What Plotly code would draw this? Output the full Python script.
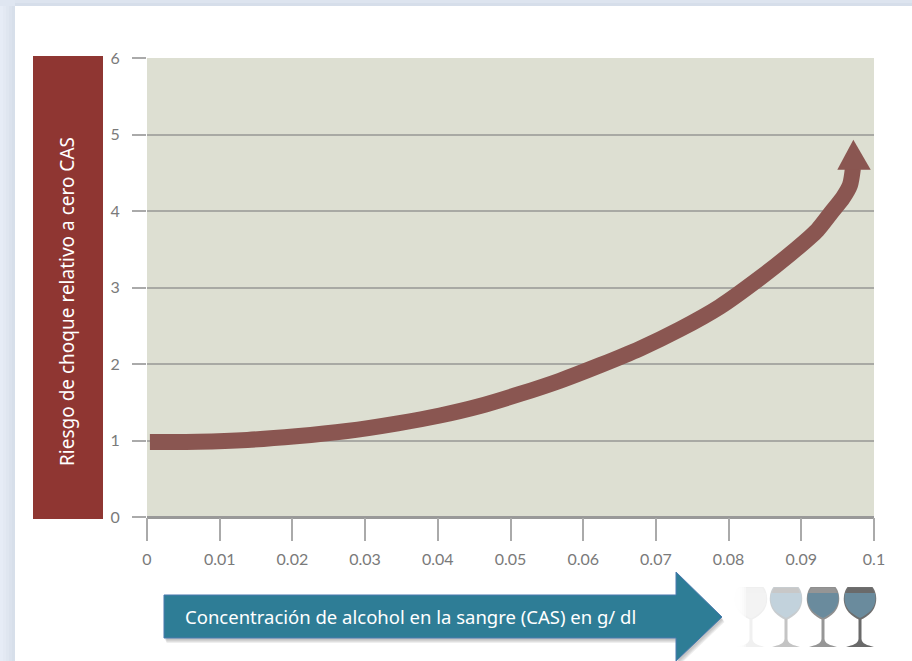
import plotly.graph_objects as go

# Data
cas = [0.0004, 0.0070, 0.0138, 0.0205, 0.0275, 0.0345, 0.0403, 0.0458, 0.0513, 0.0568, 0.0623, 0.0678, 0.0733, 0.0788, 0.0843, 0.0885, 0.0922, 0.0942, 0.0957, 0.0967, 0.0971]
riesgo = [0.98, 0.985, 1.008, 1.055, 1.124, 1.225, 1.327, 1.451, 1.608, 1.782, 1.983, 2.20, 2.454, 2.749, 3.124, 3.44, 3.75, 3.99, 4.17, 4.34, 4.56]
head_x = [0.09495, 0.09716, 0.09955, 0.09495]
head_y = [4.54, 4.93, 4.54, 4.54]
x_ticks = [0, 0.01, 0.02, 0.03, 0.04, 0.05, 0.06, 0.07, 0.08, 0.09, 0.1]
x_labels = ["0", "0.01", "0.02", "0.03", "0.04", "0.05", "0.06", "0.07", "0.08", "0.09", "0.1"]
y_ticks = [0, 1, 2, 3, 4, 5, 6]
y_title = "Riesgo de choque relativo a cero CAS"
x_title = "Concentración de alcohol en la sangre (CAS) en g/ dl"

W, H = 912, 661
L, R, T, B = 147, 874, 58, 517
def px(x): return (x - L) / (R - L)
def py(y): return (B - y) / (B - T)

def rect(x0, y0, x1, y1, color, layer="below", line=None, lw=0, opacity=1):
    return dict(type="rect", xref="paper", yref="paper", x0=px(x0), x1=px(x1), y0=py(y1), y1=py(y0),
                fillcolor=color, line=dict(color=line or color, width=lw), layer=layer, opacity=opacity)

def path(cmds, color, layer="above", line=None, lw=0, opacity=1):
    parts = []
    for c in cmds:
        parts.append(c[0] + " ".join(f"{px(c[i]):.5f},{py(c[i+1]):.5f}" for i in range(1, len(c), 2)))
    return dict(type="path", xref="paper", yref="paper", path=" ".join(parts), fillcolor=color,
                line=dict(color=line or color, width=lw), layer=layer, opacity=opacity)

shapes = []
# page background bands
for i, c in enumerate(["#e6ecf6", "#e3e9f3", "#dfe6f0", "#dbe2ed", "#d7dfea"]):
    shapes.append(rect(3 * i, 0, 3 * i + 3, H, c))
shapes.append(rect(0, 0, W, 3, "#dde4ef"))
shapes.append(rect(15, 3, W, 6, "#d6deea"))
shapes.append(rect(0, 0, 15, 6, "#dfe6f1"))
# red title box
shapes.append(rect(33, 56, 103, 519, "#8f3632", layer="above"))
# blue arrow with soft shadow
arrow = [("M", 164, 595), ("L", 676, 595), ("L", 676, 572), ("L", 722, 617), ("L", 676, 661), ("L", 676, 638), ("L", 164, 638), ("Z",)]
def offset(cmds, d):
    return [(c[0],) + tuple(v + (d / 2 if i % 2 == 0 else d) for i, v in enumerate(c[1:])) for c in cmds]
for d in (5, 4, 3, 2):
    shapes.append(path(offset(arrow, d), "#777777", opacity=0.12))
shapes.append(path(arrow, "#2e7d96", line="#4a7ab0", lw=1))

def glass(cx, rim, liquid, edge, stem):
    top, lvl, bot, foot = 587, 593, 620, 647
    out = []
    outline = [("M", cx - 12.5, top), ("L", cx + 12.5, top), ("C", cx + 18, 594, cx + 20, 612, cx, bot),
               ("C", cx - 20, 612, cx - 18, 594, cx - 12.5, top), ("Z",)]
    out.append(path(outline, edge))
    inner = [("M", cx - 11.5, top + 1), ("L", cx + 11.5, top + 1), ("C", cx + 16, 594, cx + 18, 611, cx, bot - 1.5),
             ("C", cx - 18, 611, cx - 16, 594, cx - 11.5, top + 1), ("Z",)]
    out.append(path(inner, rim))
    fill = [("M", cx - 15, lvl), ("L", cx + 15, lvl), ("C", cx + 16.5, 602, cx + 15, 611, cx, bot - 2),
            ("C", cx - 15, 611, cx - 16.5, 602, cx - 15, lvl), ("Z",)]
    out.append(path(fill, liquid))
    st = [("M", cx - 1.5, bot - 1), ("L", cx + 1.5, bot - 1), ("L", cx + 1.5, 639), ("C", cx + 2, 644, cx + 7, 645, cx + 14, foot),
          ("L", cx - 14, foot), ("C", cx - 7, 645, cx - 2, 644, cx - 1.5, 639), ("Z",)]
    out.append(path(st, stem))
    return out

shapes += glass(751, "#f2f2f2", "#f3f3f3", "#efefef", "#f0f0f0")
for i in range(6):  # the first glass fades out to the left
    shapes.append(rect(733, 584, 746 - 2 * i, 650, "#ffffff", layer="above", opacity=0.45))
shapes += glass(786, "#c8c8c8", "#c2d2dc", "#c8cdd0", "#c4c4c4")
shapes += glass(823, "#959595", "#6a8b9d", "#8f8f8f", "#969696")
shapes += glass(860, "#6a6a6a", "#6a8b9d", "#6f6f6f", "#6a6a6a")

fig = go.Figure()
fig.add_trace(go.Scatter(x=cas, y=riesgo, mode="lines", line=dict(color="#8a5651", width=16, shape="spline", smoothing=0.7),
                         hoverinfo="skip", showlegend=False))
fig.add_trace(go.Scatter(x=head_x, y=head_y, mode="lines", fill="toself", fillcolor="#8a5651",
                         line=dict(color="#8a5651", width=0), hoverinfo="skip", showlegend=False))

tick_font = dict(family="Lato, sans-serif", size=16, color="#7a7a7a")
fig.update_layout(
    width=W, height=H, autosize=False,
    margin=dict(l=L, r=W - R, t=T, b=H - B, pad=0),
    paper_bgcolor="#ffffff", plot_bgcolor="#dddfd2",
    showlegend=False, shapes=shapes,
    xaxis=dict(range=[0, 0.1], tickvals=x_ticks, ticktext=x_labels, ticks="outside", ticklen=23, tickwidth=1.5,
               tickcolor="#aaaaaa", showgrid=False, zeroline=False, tickfont=tick_font, showline=False,
               ticklabelstandoff=5),
    yaxis=dict(range=[0, 6], tickvals=y_ticks, ticks="outside", ticklen=14, tickwidth=1.5, tickcolor="#aaaaaa",
               showgrid=True, gridcolor="#a8a9a4", gridwidth=1.5, zeroline=True, zerolinecolor="#999999", zerolinewidth=2.5,
               tickfont=tick_font, showline=False, ticklabelstandoff=9),
    annotations=[
        dict(text=y_title, xref="paper", yref="paper", x=px(67), y=py(302), xanchor="center", yanchor="middle",
             textangle=-90, showarrow=False, font=dict(family="Noto Sans, sans-serif", size=19, color="#ffffff")),
        dict(text=x_title, xref="paper", yref="paper", x=px(410.5), y=py(616), xanchor="center", yanchor="middle",
             showarrow=False, font=dict(family="Noto Sans, sans-serif", size=18.5, color="#ffffff")),
    ],
)
fig.write_html("out.html", post_script="document.body.style.margin='0';document.body.style.overflow='hidden';",
               config=dict(displayModeBar=False))
